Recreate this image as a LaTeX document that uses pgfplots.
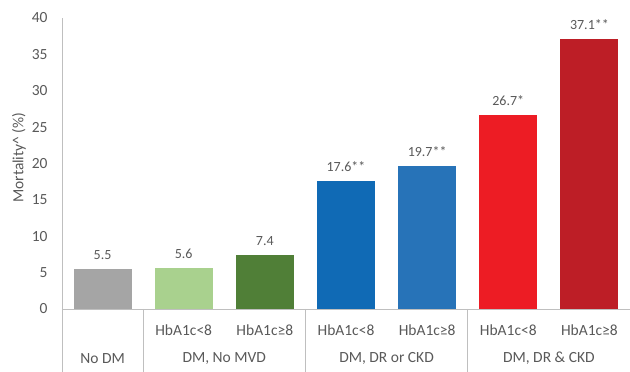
\documentclass[border=0pt]{standalone}
\usepackage{pgfplots}
\pgfplotsset{compat=1.18}
\usepackage{fontspec}
\setmainfont{Carlito}

\definecolor{txt}{HTML}{595959}
\definecolor{axisgray}{HTML}{BFBFBF}
\definecolor{cGray}{HTML}{A5A5A5}
\definecolor{cLGreen}{HTML}{A9D18E}
\definecolor{cDGreen}{HTML}{507F37}
\definecolor{cBlue}{HTML}{106AB5}
\definecolor{cBlueB}{HTML}{2773B8}
\definecolor{cRed}{HTML}{ED1C24}
\definecolor{cDRed}{HTML}{BD1E26}

\newcommand{\ticksize}{\fontsize{15.5}{17}\selectfont}

\begin{document}
\begin{tikzpicture}[x=1pt,y=1pt]
\begin{axis}[
  at={(62pt,63pt)}, anchor=south west,
  scale only axis, width=568pt, height=291pt,
  xmin=-0.5, xmax=6.5, ymin=0, ymax=40,
  ytick={0,5,...,40},
  yticklabel={\ticksize\pgfmathprintnumber{\tick}},
  xtick=\empty,
  axis lines*=left,
  axis line style={draw=axisgray, line width=0.8pt},
  major tick length=0pt,
  /pgf/number format/assume math mode=true,
  yticklabel style={font=\ticksize, text=txt, anchor=east, xshift=-11pt},
  clip=false,
  ybar, bar width=58pt, bar shift=0pt,
  nodes near coords, point meta=explicit symbolic,
  every node near coord/.append style={font=\fontsize{14}{16}\selectfont,
    text=txt, yshift=6pt},
]
\addplot[fill=cGray,   draw=none] coordinates {(0,5.5) [5.5]};
\addplot[fill=cLGreen, draw=none] coordinates {(1,5.6) [5.6]};
\addplot[fill=cDGreen, draw=none] coordinates {(2,7.4) [7.4]};
\addplot[fill=cBlue,   draw=none] coordinates {(3,17.6) [17.6**]};
\addplot[fill=cBlueB,  draw=none] coordinates {(4,19.7) [19.7**]};
\addplot[fill=cRed,    draw=none] coordinates {(5,26.7) [26.7*]};
\addplot[fill=cDRed,   draw=none] coordinates {(6,37.1) [37.1**]};

% y-axis title
\node[xshift=-43pt, rotate=90, anchor=center, text=txt,
      font=\fontsize{15.5}{17}\selectfont] at (rel axis cs:0,0.52)
      {Mortality\textasciicircum{} (\%)};

% category table below the bars
\draw[axisgray, line width=0.8pt] (axis cs:-0.5,0) -- (axis cs:-0.5,-8.7);
\draw[axisgray, line width=0.8pt] (axis cs:0.5,0) -- (axis cs:0.5,-8.7);
\draw[axisgray, line width=0.8pt] (axis cs:2.5,0) -- (axis cs:2.5,-8.7);
\draw[axisgray, line width=0.8pt] (axis cs:4.5,0) -- (axis cs:4.5,-8.7);
\begin{scope}[every node/.style={font=\fontsize{15.5}{17}\selectfont, text=txt}]
\node at (axis cs:1,-2.9) {HbA1c<8};
\node at (axis cs:2,-2.9) {HbA1c≥8};
\node at (axis cs:3,-2.9) {HbA1c<8};
\node at (axis cs:4,-2.9) {HbA1c≥8};
\node at (axis cs:5,-2.9) {HbA1c<8};
\node at (axis cs:6,-2.9) {HbA1c≥8};
\node at (axis cs:0,-6.8) {No DM};
\node at (axis cs:1.5,-6.8) {DM, No MVD};
\node at (axis cs:3.5,-6.8) {DM, DR or CKD};
\node at (axis cs:5.5,-6.8) {DM, DR \& CKD};
\end{scope}
\end{axis}
\pgfresetboundingbox
\path[use as bounding box] (0,0) rectangle (630,372);
\end{tikzpicture}
\end{document}
